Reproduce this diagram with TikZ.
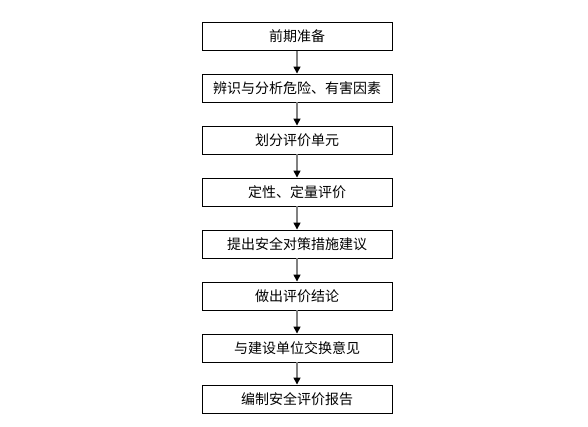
\documentclass[tikz,border=0pt]{standalone}
\usepackage{fontspec}
\newfontfamily\cjk{Noto Sans CJK SC}
\usepackage{tikz}
\usetikzlibrary{arrows.meta,positioning}

\begin{document}
\begin{tikzpicture}[
    x=1pt, y=1pt,
    >={Triangle[length=7pt,width=7pt,color=black]},
    step box/.style={
        rectangle,
        draw=black,
        line width=0.9pt,
        fill=white,
        minimum width=190pt,
        minimum height=28pt,
        inner sep=0pt,
        font=\cjk\fontsize{14pt}{16pt}\selectfont
    },
    flow/.style={
        ->,
        draw=black!50,
        line width=1.4pt
    }
]
\useasboundingbox (0,0) rectangle (588,-426);

% Steps
\node[step box] (prep)   at (297,-36.5)  {前期准备};
\node[step box] (hazard) at (297,-88)  {辨识与分析危险、有害因素};
\node[step box] (unit)   at (297,-140) {划分评价单元};
\node[step box] (assess) at (297,-192) {定性、定量评价};
\node[step box] (measure) at (297,-244) {提出安全对策措施建议};
\node[step box] (concl)  at (297,-296) {做出评价结论};
\node[step box] (client) at (297,-348) {与建设单位交换意见};
\node[step box] (report) at (297,-399) {编制安全评价报告};

% Arrows
\draw[flow] (prep) -- (hazard);
\draw[flow] (hazard) -- (unit);
\draw[flow] (unit) -- (assess);
\draw[flow] (assess) -- (measure);
\draw[flow] (measure) -- (concl);
\draw[flow] (concl) -- (client);
\draw[flow] (client) -- (report);

\end{tikzpicture}
\end{document}
